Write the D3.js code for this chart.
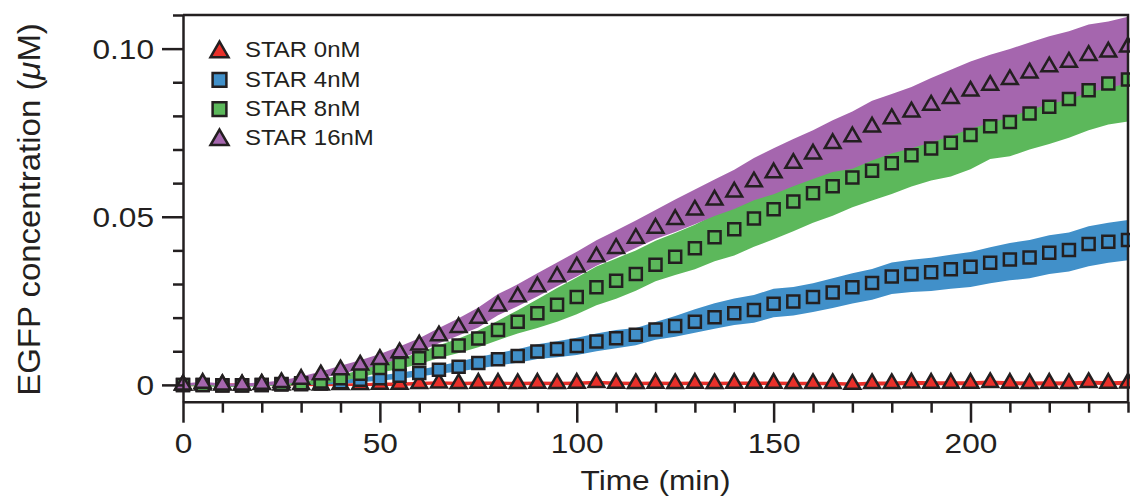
<!DOCTYPE html>
<html>
<head>
<meta charset="utf-8">
<script src="https://cdn.jsdelivr.net/npm/d3@7"></script>
<style>
  html, body { margin: 0; padding: 0; background: #ffffff; }
  svg { display: block; }
</style>
</head>
<body>
<svg id="chart" width="1130" height="499"></svg>
<script>
// Sampling times (min)
const timeMin = [
  0, 5, 10, 15, 20, 25, 30, 35, 40, 45,
  50, 55, 60, 65, 70, 75, 80, 85, 90, 95,
  100, 105, 110, 115, 120, 125, 130, 135, 140, 145,
  150, 155, 160, 165, 170, 175, 180, 185, 190, 195,
  200, 205, 210, 215, 220, 225, 230, 235, 240
];

// STAR 0nM: mean EGFP (uM) and spread
const star0Mean = [
  0.0000, 0.0000, 0.0001, 0.0000, 0.0001, 0.0000, 0.0001, 0.0000, 0.0001, 0.0001,
  0.0002, 0.0002, 0.0004, 0.0006, 0.0004, 0.0005, 0.0005, 0.0004, 0.0005, 0.0004,
  0.0005, 0.0007, 0.0005, 0.0004, 0.0005, 0.0004, 0.0005, 0.0004, 0.0005, 0.0005,
  0.0005, 0.0004, 0.0004, 0.0004, 0.0002, 0.0004, 0.0004, 0.0006, 0.0005, 0.0005,
  0.0005, 0.0007, 0.0005, 0.0004, 0.0005, 0.0004, 0.0007, 0.0005, 0.0006
];
const star0Err = [
  0.0004, 0.0004, 0.0004, 0.0004, 0.0004, 0.0004, 0.0004, 0.0004, 0.0004, 0.0004,
  0.0005, 0.0005, 0.0005, 0.0005, 0.0005, 0.0005, 0.0005, 0.0005, 0.0005, 0.0005,
  0.0005, 0.0005, 0.0005, 0.0005, 0.0005, 0.0005, 0.0005, 0.0005, 0.0005, 0.0005,
  0.0005, 0.0005, 0.0005, 0.0005, 0.0005, 0.0006, 0.0006, 0.0006, 0.0006, 0.0006,
  0.0006, 0.0006, 0.0006, 0.0006, 0.0006, 0.0006, 0.0006, 0.0006, 0.0006
];

// STAR 4nM
const star4Mean = [
  0.0000, 0.0000, -0.0001, -0.0001, 0.0000, 0.0001, 0.0002, 0.0004, 0.0008, 0.0015,
  0.0020, 0.0027, 0.0035, 0.0045, 0.0054, 0.0065, 0.0076, 0.0086, 0.0099, 0.0107,
  0.0116, 0.0129, 0.0139, 0.0149, 0.0165, 0.0175, 0.0188, 0.0201, 0.0213, 0.0223,
  0.0241, 0.0248, 0.0261, 0.0275, 0.0290, 0.0303, 0.0322, 0.0330, 0.0335, 0.0344,
  0.0351, 0.0363, 0.0373, 0.0379, 0.0393, 0.0401, 0.0419, 0.0426, 0.0431
];
const star4ErrUp = [
  0.0003, 0.0003, 0.0003, 0.0003, 0.0003, 0.0003, 0.0003, 0.0003, 0.0005, 0.0007,
  0.0008, 0.0009, 0.0010, 0.0012, 0.0015, 0.0018, 0.0019, 0.0020, 0.0022, 0.0023,
  0.0024, 0.0024, 0.0024, 0.0020, 0.0022, 0.0030, 0.0037, 0.0042, 0.0044, 0.0044,
  0.0045, 0.0043, 0.0041, 0.0042, 0.0042, 0.0042, 0.0042, 0.0042, 0.0043, 0.0043,
  0.0044, 0.0046, 0.0049, 0.0052, 0.0052, 0.0052, 0.0053, 0.0056, 0.0059
];
const star4ErrDown = [
  0.0003, 0.0003, 0.0003, 0.0003, 0.0003, 0.0003, 0.0003, 0.0003, 0.0005, 0.0007,
  0.0008, 0.0009, 0.0010, 0.0012, 0.0014, 0.0016, 0.0018, 0.0020, 0.0022, 0.0025,
  0.0027, 0.0029, 0.0030, 0.0031, 0.0031, 0.0032, 0.0033, 0.0034, 0.0035, 0.0038,
  0.0040, 0.0042, 0.0044, 0.0046, 0.0048, 0.0050, 0.0052, 0.0054, 0.0056, 0.0058,
  0.0060, 0.0061, 0.0062, 0.0062, 0.0063, 0.0064, 0.0066, 0.0063, 0.0060
];

// STAR 8nM
const star8Mean = [
  0.0000, 0.0000, -0.0002, -0.0002, 0.0000, 0.0003, 0.0005, 0.0010, 0.0020, 0.0033,
  0.0050, 0.0062, 0.0079, 0.0099, 0.0117, 0.0138, 0.0163, 0.0188, 0.0213, 0.0238,
  0.0261, 0.0290, 0.0310, 0.0330, 0.0357, 0.0381, 0.0406, 0.0439, 0.0463, 0.0495,
  0.0522, 0.0545, 0.0570, 0.0591, 0.0617, 0.0637, 0.0659, 0.0683, 0.0703, 0.0720,
  0.0743, 0.0769, 0.0782, 0.0807, 0.0827, 0.0850, 0.0876, 0.0896, 0.0908
];
const star8ErrUp = [
  0.0004, 0.0004, 0.0004, 0.0004, 0.0004, 0.0005, 0.0006, 0.0007, 0.0009, 0.0011,
  0.0013, 0.0015, 0.0017, 0.0019, 0.0021, 0.0024, 0.0028, 0.0034, 0.0042, 0.0050,
  0.0058, 0.0062, 0.0066, 0.0070, 0.0072, 0.0071, 0.0070, 0.0068, 0.0068, 0.0068,
  0.0070, 0.0080, 0.0090, 0.0090, 0.0091, 0.0092, 0.0093, 0.0094, 0.0095, 0.0096,
  0.0097, 0.0098, 0.0099, 0.0100, 0.0100, 0.0100, 0.0100, 0.0100, 0.0100
];
const star8ErrDown = [
  0.0004, 0.0004, 0.0004, 0.0004, 0.0004, 0.0005, 0.0006, 0.0007, 0.0009, 0.0011,
  0.0013, 0.0015, 0.0017, 0.0019, 0.0022, 0.0026, 0.0030, 0.0035, 0.0044, 0.0050,
  0.0051, 0.0053, 0.0054, 0.0050, 0.0049, 0.0054, 0.0062, 0.0071, 0.0078, 0.0084,
  0.0089, 0.0088, 0.0088, 0.0088, 0.0089, 0.0089, 0.0091, 0.0093, 0.0095, 0.0100,
  0.0102, 0.0097, 0.0102, 0.0107, 0.0111, 0.0115, 0.0119, 0.0122, 0.0125
];

// STAR 16nM
const star16Mean = [
  0.0000, 0.0005, 0.0000, 0.0000, 0.0002, 0.0007, 0.0017, 0.0030, 0.0045, 0.0059,
  0.0076, 0.0096, 0.0119, 0.0146, 0.0171, 0.0198, 0.0235, 0.0262, 0.0292, 0.0322,
  0.0351, 0.0381, 0.0406, 0.0436, 0.0466, 0.0492, 0.0520, 0.0550, 0.0574, 0.0604,
  0.0631, 0.0659, 0.0687, 0.0718, 0.0738, 0.0767, 0.0792, 0.0812, 0.0832, 0.0852,
  0.0874, 0.0891, 0.0908, 0.0928, 0.0946, 0.0960, 0.0980, 0.0990, 0.1005
];
const star16ErrUp = [
  0.0004, 0.0004, 0.0004, 0.0004, 0.0005, 0.0006, 0.0008, 0.0010, 0.0012, 0.0014,
  0.0016, 0.0018, 0.0020, 0.0023, 0.0027, 0.0032, 0.0035, 0.0037, 0.0040, 0.0042,
  0.0045, 0.0049, 0.0053, 0.0053, 0.0054, 0.0059, 0.0061, 0.0061, 0.0066, 0.0071,
  0.0073, 0.0072, 0.0070, 0.0069, 0.0075, 0.0078, 0.0073, 0.0074, 0.0081, 0.0085,
  0.0088, 0.0091, 0.0091, 0.0090, 0.0091, 0.0092, 0.0092, 0.0091, 0.0090
];
const star16ErrDown = [
  0.0004, 0.0004, 0.0004, 0.0004, 0.0005, 0.0006, 0.0008, 0.0010, 0.0012, 0.0014,
  0.0016, 0.0018, 0.0020, 0.0022, 0.0024, 0.0027, 0.0028, 0.0028, 0.0029, 0.0029,
  0.0029, 0.0027, 0.0026, 0.0029, 0.0032, 0.0037, 0.0042, 0.0048, 0.0051, 0.0055,
  0.0064, 0.0068, 0.0075, 0.0085, 0.0095, 0.0100, 0.0104, 0.0108, 0.0111, 0.0112,
  0.0112, 0.0112, 0.0112, 0.0111, 0.0111, 0.0111, 0.0110, 0.0108, 0.0107
];

// Axis ticks and labels
const xMajorTicks = [0, 50, 100, 150, 200];
const xMinorTicks = [10, 20, 30, 40, 60, 70, 80, 90, 110, 120, 130, 140, 160, 170, 180, 190, 210, 220, 230, 240];
const yMajorTicks = [0, 0.05, 0.10];
const yTickLabels = ["0", "0.05", "0.10"];
const yMinorTicks = [0.01, 0.02, 0.03, 0.04, 0.06, 0.07, 0.08, 0.09, 0.11];

const legendLabels = ["STAR 0nM", "STAR 4nM", "STAR 8nM", "STAR 16nM"];
const seriesColors = ["#e8302a", "#4190c9", "#5cb85b", "#a566ae"];

(function () {
  const ink = "#231f20";
  const font = "'Liberation Sans', Arial, Helvetica, sans-serif";
  const stretch = 1.13;

  const series = [
    { label: legendLabels[0], mean: star0Mean, up: star0Err, down: star0Err, color: seriesColors[0], shape: d3.symbolTriangle },
    { label: legendLabels[1], mean: star4Mean, up: star4ErrUp, down: star4ErrDown, color: seriesColors[1], shape: d3.symbolSquare },
    { label: legendLabels[2], mean: star8Mean, up: star8ErrUp, down: star8ErrDown, color: seriesColors[2], shape: d3.symbolSquare },
    { label: legendLabels[3], mean: star16Mean, up: star16ErrUp, down: star16ErrDown, color: seriesColors[3], shape: d3.symbolTriangle }
  ];

  const svg = d3.select("#chart");
  const plotL = 183, plotR = 1128, plotT = 15, plotB = 401.7;

  const x = d3.scaleLinear().domain([0, 240]).range([plotL, plotR]);
  const y = d3.scaleLinear().domain([-0.005, 0.11]).range([plotB, plotT]);

  svg.append("defs").append("clipPath").attr("id", "plotClip")
    .append("rect").attr("x", plotL).attr("y", plotT)
    .attr("width", plotR - plotL).attr("height", plotB - plotT);

  // Shaded spread bands
  const bandLayer = svg.append("g").attr("clip-path", "url(#plotClip)");
  series.forEach(s => {
    const area = d3.area()
      .x((d, i) => x(timeMin[i]))
      .y0((d, i) => y(s.mean[i] - s.down[i]))
      .y1((d, i) => y(s.mean[i] + s.up[i]));
    bandLayer.append("path")
      .attr("d", area(s.mean))
      .attr("fill", s.color)
      .attr("stroke", "none");
  });

  // Markers
  series.forEach(s => {
    const isTri = s.shape === d3.symbolTriangle;
    const sym = d3.symbol().type(s.shape).size(isTri ? 108 : 144);
    svg.append("g").selectAll("path")
      .data(s.mean)
      .join("path")
      .attr("d", sym())
      .attr("transform", (d, i) => `translate(${x(timeMin[i])},${y(d)})`)
      .attr("fill", s.color)
      .attr("stroke", ink)
      .attr("stroke-width", 2.5)
      .attr("stroke-linejoin", "miter");
  });

  // Frame: top and right edges
  svg.append("path")
    .attr("d", `M${plotL},${plotT}H${plotR}V${plotB}`)
    .attr("fill", "none")
    .attr("stroke", ink)
    .attr("stroke-width", 2.5);

  // Y axis
  const yAxisG = svg.append("g")
    .attr("transform", `translate(${plotL},0)`)
    .attr("color", ink)
    .call(d3.axisLeft(y).tickValues(yMajorTicks).tickSize(21).tickSizeOuter(0)
      .tickFormat((d, i) => yTickLabels[i]));
  yAxisG.selectAll("path, line").attr("stroke-width", 2.5);
  yAxisG.selectAll("text")
    .attr("font-family", font)
    .attr("font-size", 28)
    .attr("fill", ink)
    .attr("x", -29 / stretch)
    .attr("dy", "0.36em")
    .attr("transform", `scale(${stretch},1)`);

  const yMinorG = svg.append("g")
    .attr("transform", `translate(${plotL},0)`)
    .attr("color", ink)
    .call(d3.axisLeft(y).tickValues(yMinorTicks).tickSize(10).tickSizeOuter(0).tickFormat(""));
  yMinorG.select(".domain").remove();
  yMinorG.selectAll("line").attr("stroke-width", 2.5);

  // X axis
  const xAxisG = svg.append("g")
    .attr("transform", `translate(0,${plotB})`)
    .attr("color", ink)
    .call(d3.axisBottom(x).tickValues(xMajorTicks).tickSize(21).tickSizeOuter(0)
      .tickFormat(d3.format("d")));
  xAxisG.selectAll("path, line").attr("stroke-width", 2.5);
  xAxisG.selectAll("text")
    .attr("font-family", font)
    .attr("font-size", 28)
    .attr("fill", ink)
    .attr("y", 51)
    .attr("dy", 0)
    .attr("transform", `scale(${stretch},1)`);

  const xMinorG = svg.append("g")
    .attr("transform", `translate(0,${plotB})`)
    .attr("color", ink)
    .call(d3.axisBottom(x).tickValues(xMinorTicks).tickSize(11).tickSizeOuter(0).tickFormat(""));
  xMinorG.select(".domain").remove();
  xMinorG.selectAll("line").attr("stroke-width", 2.5);

  // Axis titles
  svg.append("text")
    .attr("transform", `translate(${(plotL + plotR) / 2},490) scale(${stretch},1)`)
    .attr("text-anchor", "middle")
    .attr("font-family", font)
    .attr("font-size", 28)
    .attr("fill", ink)
    .text("Time (min)");

  const yTitle = svg.append("text")
    .attr("transform", "translate(40,209.5) rotate(-90) scale(1.03,1)")
    .attr("text-anchor", "middle")
    .attr("font-family", font)
    .attr("font-size", 32)
    .attr("fill", ink);
  yTitle.append("tspan").text("EGFP concentration (");
  yTitle.append("tspan").attr("font-style", "italic").text("\u03BC");
  yTitle.append("tspan").text("M)");

  // Legend
  const legend = svg.append("g");
  series.forEach((s, i) => {
    const rowY = 50.5 + 29.3 * i;
    const isTri = s.shape === d3.symbolTriangle;
    legend.append("path")
      .attr("d", d3.symbol().type(s.shape).size(isTri ? 140 : 190)())
      .attr("transform", `translate(219.5,${rowY + (isTri ? 1.5 : 0)})`)
      .attr("fill", s.color)
      .attr("stroke", ink)
      .attr("stroke-width", 2.5);
    legend.append("text")
      .attr("transform", `translate(245,${rowY + 6.8}) scale(1.09,1)`)
      .attr("font-family", font)
      .attr("font-size", 22)
      .attr("fill", ink)
      .text(s.label);
  });
})();
</script>
</body>
</html>
